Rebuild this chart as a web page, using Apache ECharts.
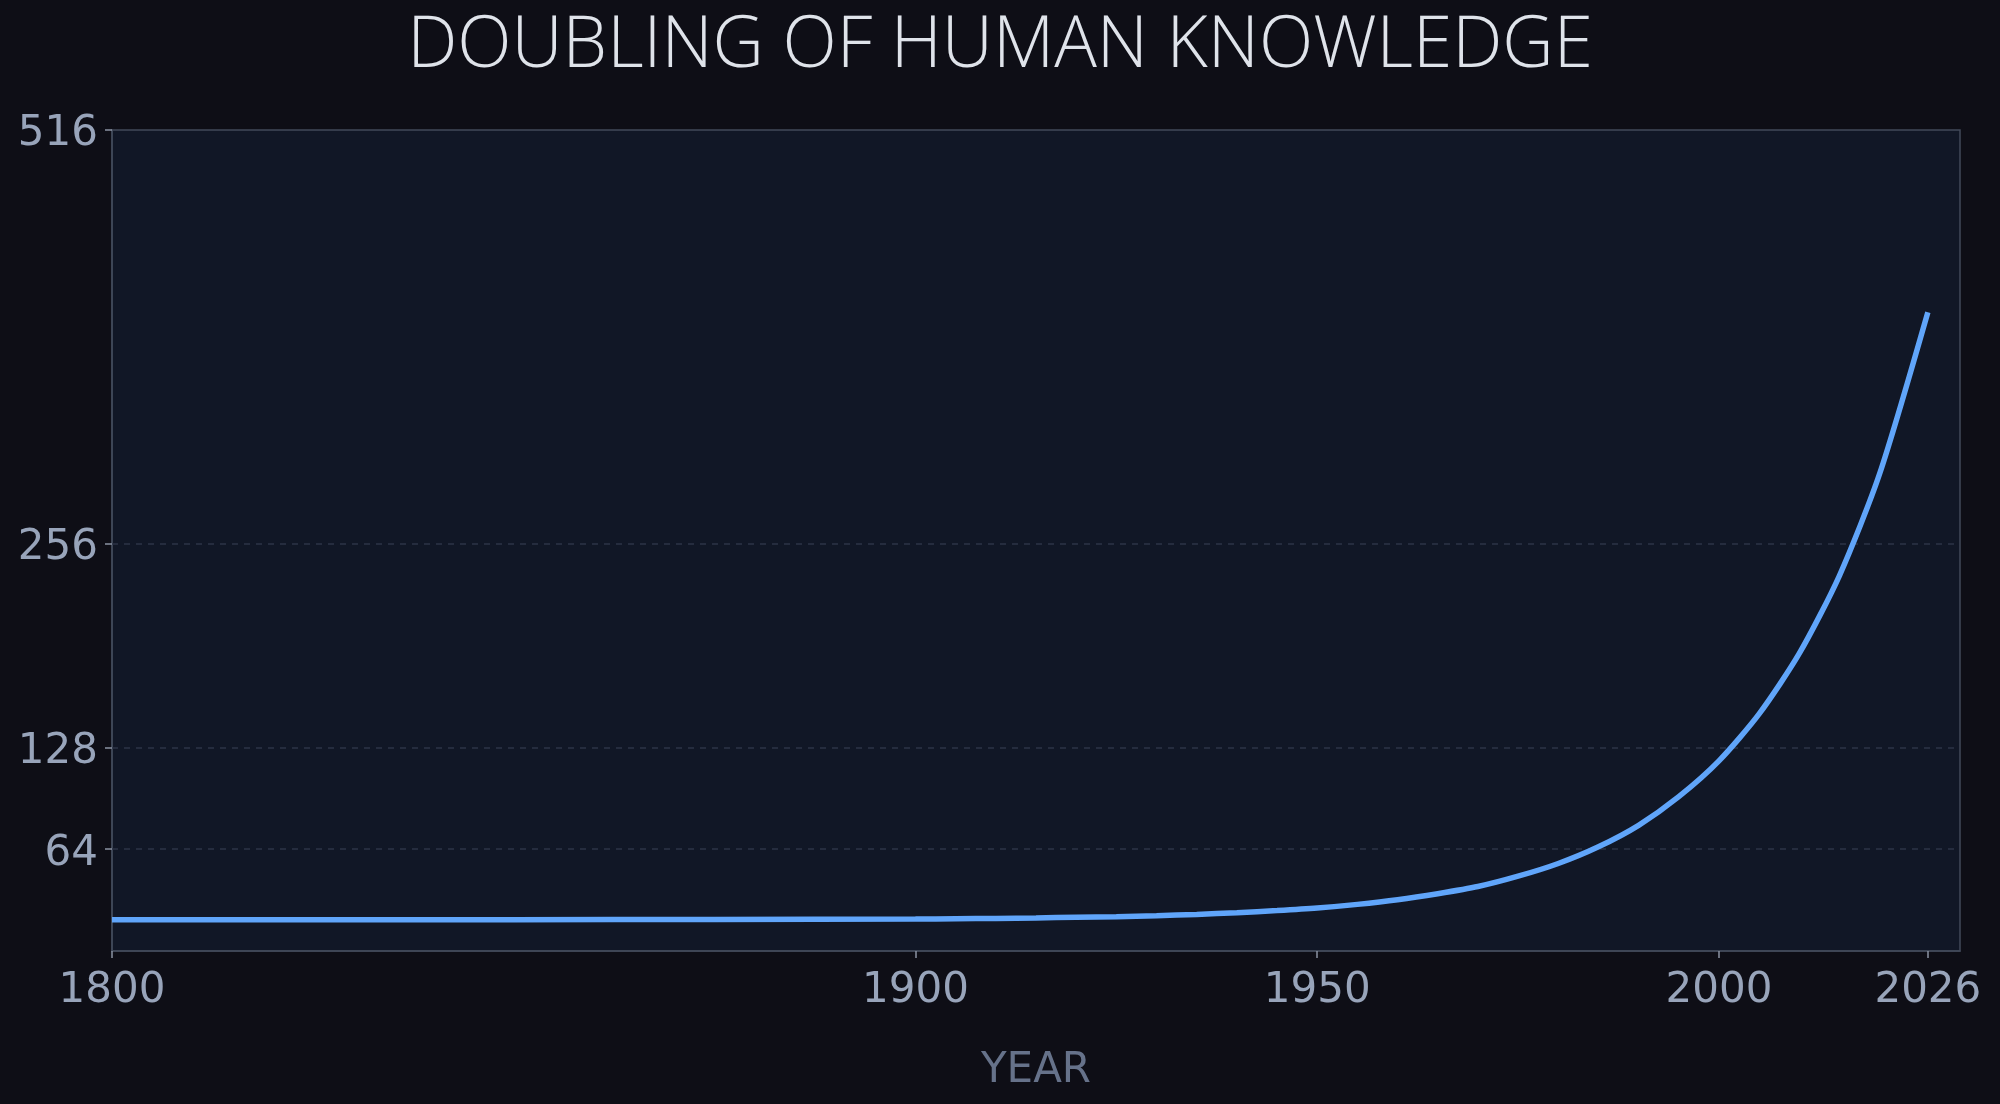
<!DOCTYPE html>
<html>
<head>
<meta charset="utf-8">
<script src="https://cdn.jsdelivr.net/npm/echarts@6/dist/echarts.min.js"></script>
<style>
html,body{margin:0;padding:0;background:#0e0e16;}
#chart{width:2000px;height:1104px;}
</style>
</head>
<body>
<div id="chart"></div>
<script>
// Data
const years = [1800, 1825, 1850, 1875, 1900, 1905, 1910, 1915, 1920, 1925, 1930, 1935, 1940, 1945, 1950, 1955, 1960, 1965, 1970, 1975, 1980, 1985, 1990, 1995, 2000, 2005, 2010, 2015, 2020, 2026];
const knowledge = [19.6, 19.6, 19.7, 19.8, 20.1, 20.3, 20.5, 20.8, 21.2, 21.6, 22.2, 23.0, 24.1, 25.4, 27.0, 29.3, 32.2, 36.0, 40.5, 47.0, 55.0, 65.5, 79.0, 97.0, 119.5, 149.0, 187.0, 236.0, 300.0, 401.5];
const xTicks = [1800, 1900, 1950, 2000, 2026];
const yTicks = [64, 128, 256, 516];
const gridLines = [64, 128, 256];

const chart = echarts.init(document.getElementById('chart'), null, {renderer: 'canvas'});
const axisGray = '#414a5a';
const option = {
  backgroundColor: '#0e0e16',
  animation: false,
  title: {
    text: 'DOUBLING OF HUMAN KNOWLEDGE',
    left: 'center',
    top: 6,
    textStyle: {
      fontFamily: 'Open Sans',
      fontWeight: 300,
      fontSize: 71,
      color: '#dfe3ea'
    }
  },
  grid: {
    left: 112, right: 40, top: 130, bottom: 153,
    show: true,
    backgroundColor: '#111726',
    borderColor: axisGray,
    borderWidth: 1.5
  },
  xAxis: {
    type: 'value',
    min: 1800,
    max: 2030,
    name: 'YEAR',
    nameLocation: 'middle',
    nameGap: 99,
    nameTextStyle: {fontFamily: 'DejaVu Sans', fontSize: 42, color: '#66728a'},
    axisLine: {show: true, lineStyle: {color: axisGray, width: 1.5}},
    axisTick: {show: true, length: 7, lineStyle: {color: '#8a93a3', width: 1.5}, customValues: xTicks},
    axisLabel: {
      fontFamily: 'DejaVu Sans', fontSize: 42, color: '#98a4ba', margin: 19,
      customValues: xTicks,
      formatter: v => String(v)
    },
    splitLine: {show: false}
  },
  yAxis: {
    type: 'value',
    min: 0,
    max: 516,
    axisLine: {show: true, lineStyle: {color: axisGray, width: 1.5}},
    axisTick: {show: true, length: 7, lineStyle: {color: '#8a93a3', width: 1.5}, customValues: yTicks},
    axisLabel: {
      margin: 14,
      customValues: yTicks,
      formatter: v => '{t|' + v + '}',
      rich: {
        t: {fontFamily: 'DejaVu Sans', fontSize: 42, color: '#98a4ba', padding: [9, 0, 0, 0]}
      }
    },
    splitLine: {show: false}
  },
  series: [{
    type: 'line',
    data: years.map((y, i) => [y, knowledge[i]]),
    smooth: 0.25,
    showSymbol: false,
    lineStyle: {color: '#60a5fa', width: 5.5},
    z: 3,
    markLine: {
      silent: true,
      symbol: 'none',
      label: {show: false},
      lineStyle: {color: '#2c3547', type: [6, 6], width: 1.5},
      data: gridLines.map(v => ({yAxis: v})),
      z: 1
    }
  }]
};
chart.setOption(option);
</script>
</body>
</html>
